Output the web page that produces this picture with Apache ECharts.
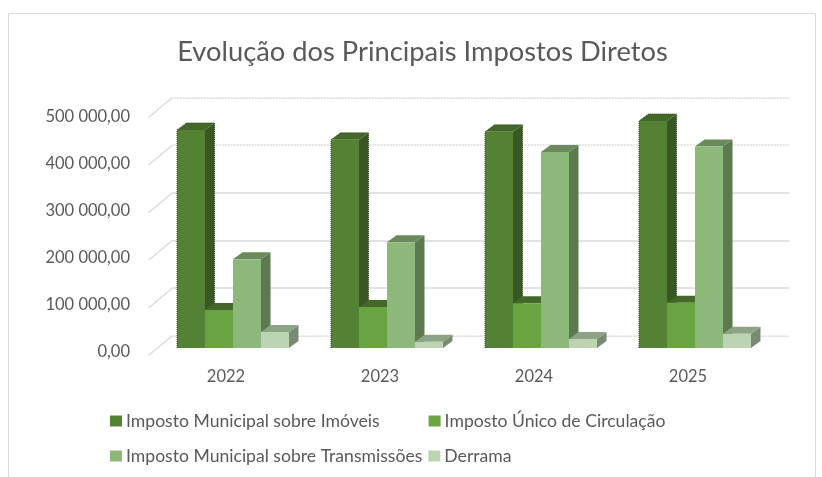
<!DOCTYPE html>
<html><head><meta charset="utf-8">
<style>html,body{margin:0;padding:0;background:#fff}#c{width:822px;height:477px}</style>
<script src="https://cdn.jsdelivr.net/npm/echarts@6/dist/echarts.min.js"></script>
</head><body><div id="c"></div>
<script>
const categories = ['2022','2023','2024','2025'];
const imi = [462000,441000,458000,481000];
const iuc = [80500,87000,95000,96000];
const imt = [188000,224000,415000,427000];
const derrama = [34000,13000,19000,30000];
const tickValues = [0,100000,200000,300000,400000,500000];
const dottedValues = [0,400000,500000];
const names = ['Imposto Municipal sobre Imóveis','Imposto Único de Circulação','Imposto Municipal sobre Transmissões','Derrama'];
const font = 'Lato, "Open Sans", sans-serif';
const faces = [
  {front:'#548235',side:'#385723',top:'#43682a',edge:'#2f4a1c'},
  {front:'#6aa342',side:'#43682a',top:'#43682a',edge:null},
  {front:'#8cb97a',side:'#5c7a4e',top:'#6b8a5c',edge:null},
  {front:'#bdd4b2',side:'#788a72',top:'#8da385',edge:null}
];
const DX=9.5, DY=-7, BAR=28/154;
function fmt(v){
  const p=v.toFixed(0).replace(/\B(?=(\d{3})+(?!\d))/g,' ');
  return p+',00';
}
function barItem(si){
  return function(params,api){
    const cat=api.value(0), val=api.value(1);
    const top=api.coord([cat,val]), base=api.coord([cat,0]);
    const band=api.size([1,0])[0], w=band*BAR;
    const x0=top[0]+(si-2)*w, x1=x0+w, yT=top[1], yB=base[1];
    const f=faces[si];
    const kids=[
      {type:'polygon',shape:{points:[[x1,yB],[x1+DX,yB+DY],[x1+DX,yT+DY],[x1,yT]]},style:{fill:f.side}},
      {type:'polygon',shape:{points:[[x0,yT],[x0+DX,yT+DY],[x1+DX,yT+DY],[x1,yT]]},style:{fill:f.top}},
      {type:'rect',shape:{x:x0,y:yT,width:w,height:yB-yT},style:{fill:f.front}}
    ];
    if(f.edge){
      kids.push({type:'polyline',shape:{points:[[x0,yB],[x0,yT],[x0+DX,yT+DY],[x1+DX,yT+DY],[x1+DX,yB+DY]]},
        style:{fill:null,stroke:f.edge,lineWidth:1,lineDash:[1,1]}});
    }
    return {type:'group',children:kids};
  };
}
const wallItem=function(params,api){
  const p=api.coord([0,api.value(0)]);
  const left=p[0]-api.size([1,0])[0]/2;
  return {type:'line',shape:{x1:left,y1:p[1],x2:left-24,y2:p[1]+20},style:{stroke:'#d9d9d9',lineWidth:1.3}};
};
const dotItem=function(params,api){
  const p=api.coord([0,api.value(0)]);
  const b=api.size([1,0])[0];
  const left=p[0]-b/2;
  return {type:'line',shape:{x1:left,y1:p[1],x2:left+b*4,y2:p[1]},style:{stroke:'#ffffff',lineWidth:1.5,lineDash:[1.5,1.5]}};
};
const series=[imi,iuc,imt,derrama].map((d,i)=>({
  name:names[i],type:'custom',xAxisIndex:0,yAxisIndex:0,z:5,
  itemStyle:{color:faces[i].front},
  encode:{x:0,y:1},
  data:d.map((v,j)=>[j,v]),
  renderItem:barItem(i),clip:false
}));
series.unshift({type:'custom',xAxisIndex:1,yAxisIndex:1,z:1,silent:true,encode:{y:0},
  data:tickValues.map(v=>[v]),renderItem:wallItem,clip:false});
series.unshift({type:'custom',xAxisIndex:1,yAxisIndex:1,z:1,silent:true,encode:{y:0},
  data:dottedValues.map(v=>[v]),renderItem:dotItem,clip:false});
const chart=echarts.init(document.getElementById('c'),null,{renderer:'canvas'});
chart.setOption({
  animation:false,
  backgroundColor:'#fff',
  title:{text:'Evolução dos Principais Impostos Diretos',left:417.5,top:34,textAlign:'center',
    textStyle:{fontFamily:font,fontWeight:'normal',fontSize:27.3,color:'#595959'}},
  graphic:[{type:'polyline',z:0,shape:{points:[[8.5,477],[8.5,13.5],[815.5,13.5],[815.5,477]]},style:{fill:null,stroke:'#d9d9d9',lineWidth:1}}],
  legend:[
    {data:names.slice(0,2),left:110,top:412,padding:0,itemWidth:12,itemHeight:11,itemGap:49,icon:'rect',
      textStyle:{fontFamily:font,fontSize:17.6,color:'#595959',padding:[0,0,0,-1]}},
    {data:names.slice(2),left:110,top:447,padding:0,itemWidth:12,itemHeight:11,itemGap:6,icon:'rect',
      textStyle:{fontFamily:font,fontSize:17.6,color:'#595959',padding:[0,0,0,-1]}}
  ],
  grid:[
    {left:156,width:616,top:112,height:236},
    {left:172.5,width:617,top:97.5,height:238},
    {left:149,width:616,top:117,height:235}
  ],
  xAxis:[
    {type:'category',gridIndex:0,data:categories,show:false},
    {type:'category',gridIndex:1,data:categories,show:false},
    {type:'category',gridIndex:2,data:categories,axisLine:{show:false},axisTick:{show:false},
      axisLabel:{fontFamily:font,fontSize:16.5,color:'#595959',margin:16}}
  ],
  yAxis:[
    {type:'value',gridIndex:0,min:0,max:500000,interval:100000,show:false,splitLine:{show:false}},
    {type:'value',gridIndex:1,min:0,max:500000,interval:100000,axisLine:{show:false},axisTick:{show:false},axisLabel:{show:false},
      splitLine:{show:true,lineStyle:{color:'#d9d9d9',width:1.5}}},
    {type:'value',gridIndex:2,min:0,max:500000,interval:100000,axisLine:{show:false},axisTick:{show:false},splitLine:{show:false},
      axisLabel:{fontFamily:font,fontSize:16.5,color:'#595959',margin:19,formatter:fmt}}
  ],
  series:series
});
</script></body></html>
